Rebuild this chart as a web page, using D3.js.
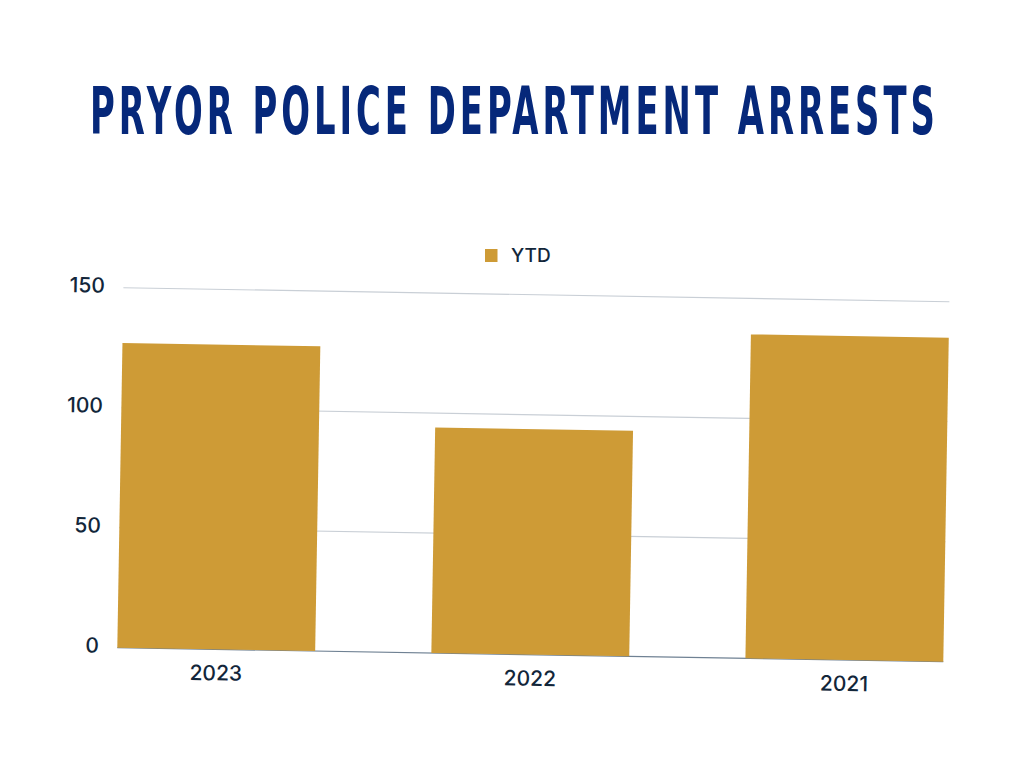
<!DOCTYPE html>
<html>
<head>
<meta charset="utf-8">
<script src="https://cdn.jsdelivr.net/npm/d3@7.9.0/dist/d3.min.js"></script>
<style>
  html, body { margin: 0; padding: 0; background: #fff; }
  svg { display: block; }
</style>
</head>
<body>
<svg id="chart" width="1024" height="768"></svg>
<script>
// chart data
const years = ['2023', '2022', '2021'];
const ytd = [127, 94, 135];
const yTicks = [0, 50, 100, 150];
const seriesName = 'YTD';

const barColor = '#ce9b36';
const inkColor = '#12263a';

const svg = d3.select('#chart');

// title: condensed look by squeezing a bold face sideways
const titleG = svg.append('g');
const title = titleG.append('text')
    .attr('x', 0)
    .attr('y', 0)
    .attr('font-family', 'DejaVu Sans Condensed, DejaVu Sans')
    .attr('font-weight', 'bold')
    .attr('font-size', 66)
    .attr('letter-spacing', 7)
    .attr('fill', '#06287a')
    .text('PRYOR POLICE DEPARTMENT ARRESTS');
const tw = title.node().getComputedTextLength() - 7;
titleG.attr('transform', `translate(90,133.5) scale(${845 / tw},1)`);

// legend (sits flat above the tilted plot)
const legend = svg.append('g').attr('transform', 'translate(485,249)');
legend.append('rect')
    .attr('width', 12.5).attr('height', 13)
    .attr('fill', barColor);
legend.append('text')
    .attr('x', 26).attr('y', 13)
    .attr('font-family', 'Inter, Open Sans, sans-serif')
    .attr('font-size', 19)
    .attr('font-weight', 500)
    .attr('fill', inkColor)
    .text(seriesName);

// plot area, the whole thing is tipped by about a degree
const x0 = 117.3, x1 = 943.4, yBase = 647.7, yTop = 287.7;
const tilt = 0.97;

const x = d3.scaleBand()
    .domain(years)
    .range([x0, x1])
    .paddingInner(0.37)
    .paddingOuter(0);

const y = d3.scaleLinear()
    .domain([0, 150])
    .range([yBase, yTop]);

const plot = svg.append('g')
    .attr('transform', `rotate(${tilt}, ${x0}, ${yBase})`);

// grid
plot.selectAll('line.grid')
    .data(yTicks.filter(d => d > 0))
    .join('line')
    .attr('class', 'grid')
    .attr('x1', x0).attr('x2', x1)
    .attr('y1', d => y(d)).attr('y2', d => y(d))
    .attr('stroke', '#c9cfd6')
    .attr('stroke-width', 1.2);

plot.append('line')
    .attr('x1', x0).attr('x2', x1)
    .attr('y1', y(0)).attr('y2', y(0))
    .attr('stroke', '#6f8193')
    .attr('stroke-width', 1.2);

// bars
plot.selectAll('rect.bar')
    .data(ytd)
    .join('rect')
    .attr('class', 'bar')
    .attr('x', (d, i) => x(years[i]))
    .attr('width', x.bandwidth())
    .attr('y', d => y(d))
    .attr('height', d => y(0) - y(d))
    .attr('fill', barColor);

// y tick labels
plot.selectAll('text.ytick')
    .data(yTicks)
    .join('text')
    .attr('class', 'ytick')
    .attr('x', x0 - 18.5)
    .attr('y', d => y(d) - 2)
    .attr('dy', '0.35em')
    .attr('text-anchor', 'end')
    .attr('font-family', 'Inter, Open Sans, sans-serif')
    .attr('font-size', 21)
    .attr('font-weight', 500)
    .attr('fill', inkColor)
    .text(d => d);

// x tick labels
plot.selectAll('text.xtick')
    .data(years)
    .join('text')
    .attr('class', 'xtick')
    .attr('x', d => x(d) + x.bandwidth() / 2)
    .attr('y', yBase + 31)
    .attr('text-anchor', 'middle')
    .attr('font-family', 'Inter, Open Sans, sans-serif')
    .attr('font-size', 21)
    .attr('font-weight', 500)
    .attr('fill', inkColor)
    .text(d => d);
</script>
</body>
</html>
